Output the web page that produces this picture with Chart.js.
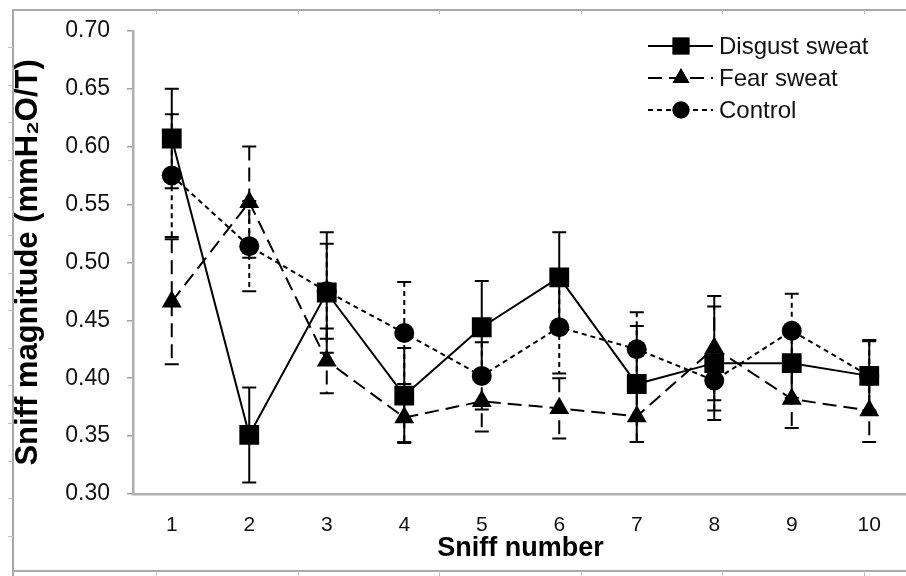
<!DOCTYPE html>
<html>
<head>
<meta charset="utf-8">
<script src="https://cdn.jsdelivr.net/npm/chart.js@4.4.1/dist/chart.umd.min.js"></script>
<style>
  html, body { margin: 0; padding: 0; background: #fff; overflow: hidden; }
  #wrap { position: relative; width: 906px; height: 576px; overflow: hidden; }
  #c { position: absolute; left: 0; top: 0; }
</style>
</head>
<body>
<div id="wrap"><canvas id="c" width="922" height="576"></canvas></div>
<script>
// ---- data ----
const categories = ['1', '2', '3', '4', '5', '6', '7', '8', '9', '10'];
const seriesNames = ['Disgust sweat', 'Fear sweat', 'Control'];

const disgust    = [0.607, 0.351, 0.474, 0.385, 0.444, 0.487, 0.395, 0.413, 0.413, 0.402];
const disgustErr = [0.043, 0.041, 0.052, 0.041, 0.040, 0.039, 0.050, 0.049, 0.030, 0.031];

const fear       = [0.466, 0.552, 0.415, 0.366, 0.380, 0.374, 0.367, 0.426, 0.382, 0.372];
const fearErr    = [0.054, 0.048, 0.028, 0.021, 0.026, 0.026, 0.022, 0.045, 0.025, 0.027];

const control    = [0.575, 0.514, 0.475, 0.439, 0.402, 0.444, 0.425, 0.398, 0.441, 0.402];
const controlErr = [0.053, 0.039, 0.041, 0.044, 0.029, 0.040, 0.032, 0.026, 0.032, 0.030];

const yMin = 0.30, yMax = 0.70, yStep = 0.05;
const xTitle = 'Sniff number';
const yTitle = 'Sniff magnitude (mmH\u2082O/T)';

// ---- styles ----
const FONT = "'Liberation Sans', Arial, sans-serif";
const dashes = [[], [14, 7], [5, 4]];
const shapes = ['rect', 'triangle', 'circle'];
const radii = [14, 11.5, 10];
const errs = [disgustErr, fearErr, controlErr];

const errorBars = {
  id: 'errorBars',
  beforeDatasetsDraw(chart) {
    const ctx = chart.ctx;
    const y = chart.scales.y;
    chart.data.datasets.forEach((ds, i) => {
      const meta = chart.getDatasetMeta(i);
      const e = errs[i];
      ctx.save();
      ctx.strokeStyle = '#000';
      ctx.lineWidth = 2;
      ctx.setLineDash(dashes[i]);
      meta.data.forEach((pt, j) => {
        const v = ds.data[j];
        const yt = y.getPixelForValue(v + e[j]);
        const yb = y.getPixelForValue(v - e[j]);
        ctx.beginPath();
        ctx.moveTo(pt.x, yt); ctx.lineTo(pt.x, yb);
        ctx.stroke();
        ctx.save();
        ctx.setLineDash([]);
        ctx.beginPath();
        ctx.moveTo(pt.x - 7, yt); ctx.lineTo(pt.x + 7, yt);
        ctx.moveTo(pt.x - 7, yb); ctx.lineTo(pt.x + 7, yb);
        ctx.stroke();
        ctx.restore();
      });
      ctx.restore();
    });
  }
};

const legendAndFrame = {
  id: 'legendAndFrame',
  afterDraw(chart) {
    const ctx = chart.ctx;
    // page frame (decorative)
    ctx.save();
    ctx.strokeStyle = '#a8a8a8';
    ctx.lineWidth = 2;
    ctx.beginPath();
    ctx.moveTo(12, 10); ctx.lineTo(922, 10);
    ctx.moveTo(13, 10); ctx.lineTo(13, 576);
    ctx.moveTo(12, 571); ctx.lineTo(922, 571);
    ctx.stroke();
    ctx.lineWidth = 1;
    ctx.strokeStyle = '#c0c0c0';
    ctx.beginPath();
    [156, 298, 439, 581, 722, 864].forEach(x => {
      ctx.moveTo(x + 0.5, 10); ctx.lineTo(x + 0.5, 14);
      ctx.moveTo(x + 0.5, 571); ctx.lineTo(x + 0.5, 576);
    });
    for (let k = 0; k < 14; k++) {
      const yy = Math.round(47 + 37.6 * k) + 0.5;
      ctx.moveTo(8, yy); ctx.lineTo(13, yy);
    }
    ctx.stroke();
    ctx.restore();

    // legend
    const rows = [46, 78, 110];
    chart.data.datasets.forEach((ds, i) => {
      const yy = rows[i];
      ctx.save();
      ctx.strokeStyle = '#000';
      ctx.lineWidth = 2;
      ctx.setLineDash(dashes[i]);
      ctx.beginPath();
      ctx.moveTo(648, yy); ctx.lineTo(713, yy);
      ctx.stroke();
      ctx.setLineDash([]);
      ctx.fillStyle = '#000';
      Chart.helpers.drawPoint(ctx, {pointStyle: shapes[i], radius: radii[i] * 0.85, borderWidth: 0}, 681, yy);
      ctx.fill();
      ctx.font = '24px ' + FONT;
      ctx.textBaseline = 'middle';
      ctx.textAlign = 'left';
      ctx.fillStyle = '#111';
      ctx.fillText(ds.label, 719, yy + 1);
      ctx.restore();
    });
  }
};

const datasets = [disgust, fear, control].map((arr, i) => ({
  label: seriesNames[i],
  data: arr,
  borderColor: '#000',
  backgroundColor: '#000',
  borderWidth: 2,
  borderDash: dashes[i],
  pointStyle: shapes[i],
  pointRadius: radii[i],
  pointBorderWidth: 0,
  pointBackgroundColor: '#000',
  tension: 0,
  fill: false
}));

new Chart(document.getElementById('c'), {
  type: 'line',
  data: { labels: categories, datasets },
  options: {
    responsive: false,
    animation: false,
    devicePixelRatio: 1,
    layout: { padding: { left: 0, right: 0, top: 29, bottom: 0 } },
    plugins: { legend: { display: false }, tooltip: { enabled: false } },
    scales: {
      x: {
        type: 'category',
        offset: true,
        grid: { display: true, drawOnChartArea: false, drawTicks: false },
        border: { display: true, color: '#b0b0b0', width: 2.5 },
        ticks: { color: '#111', font: { family: FONT, size: 21 }, padding: 19, maxRotation: 0 },
        title: { display: true, text: xTitle, color: '#000',
                 font: { family: FONT, size: 27, weight: 'bold' }, padding: { top: 0, bottom: 11 } },
        afterFit(s) { s.height = 82; s.paddingLeft = 0; s.paddingRight = 0; }
      },
      y: {
        type: 'linear',
        min: yMin, max: yMax,
        grid: { display: true, drawOnChartArea: false, drawTicks: true, tickLength: 6, color: '#a0a0a0', lineWidth: 1.5 },
        border: { display: true, color: '#b0b0b0', width: 2.5 },
        ticks: { stepSize: yStep, color: '#111', font: { family: FONT, size: 23 }, padding: 17,
                 callback: v => v.toFixed(2) },
        title: { display: true, text: yTitle, color: '#000',
                 font: { family: FONT, size: 31, weight: 'bold' }, padding: { top: 10, bottom: 0 } },
        afterFit(s) { s.width = 133; }
      }
    }
  },
  plugins: [errorBars, legendAndFrame]
});
</script>
</body>
</html>
